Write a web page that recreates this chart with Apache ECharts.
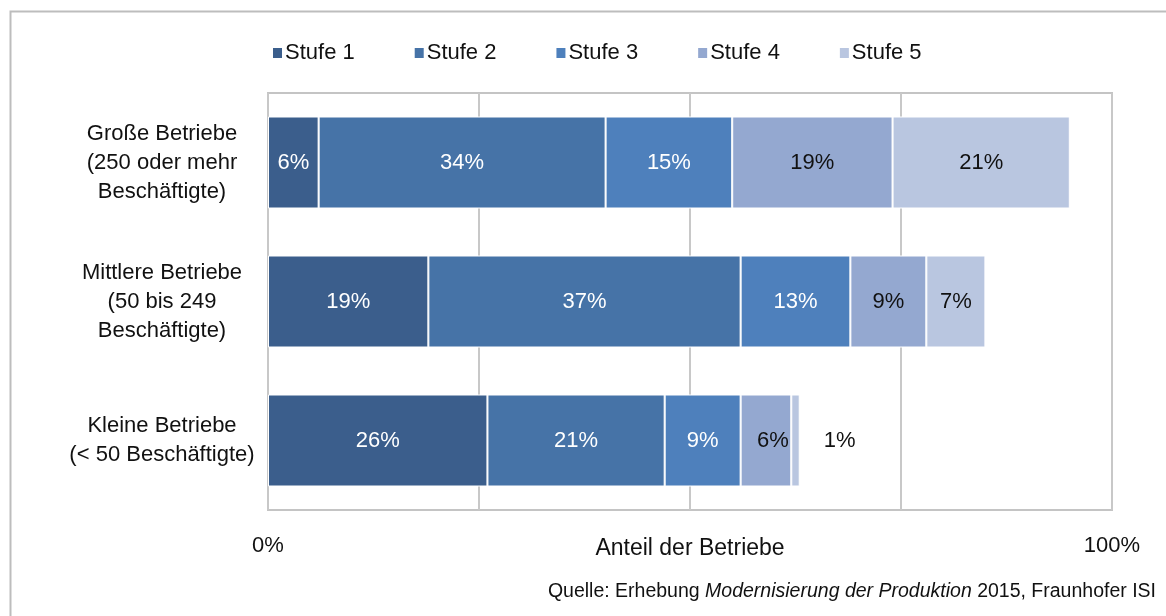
<!DOCTYPE html>
<html>
<head>
<meta charset="utf-8">
<script src="https://cdn.jsdelivr.net/npm/echarts@6/dist/echarts.min.js"></script>
<style>
  html, body { margin: 0; padding: 0; background: #fff; }
  #chart { width: 1166px; height: 616px; }
</style>
</head>
<body>
<div id="chart"></div>
<script>
// categories top to bottom
const categories = [
  'Große Betriebe\n(250 oder mehr\nBeschäftigte)',
  'Mittlere Betriebe\n(50 bis 249\nBeschäftigte)',
  'Kleine Betriebe\n(< 50 Beschäftigte)'
]
const stufeNames = ['Stufe 1', 'Stufe 2', 'Stufe 3', 'Stufe 4', 'Stufe 5']
const stufe1 = [6, 19, 26]
const stufe2 = [34, 37, 21]
const stufe3 = [15, 13, 9]
const stufe4 = [19, 9, 6]
const stufe5 = [21, 7, 1]
const xTicks = [0, 25, 50, 75, 100]

const colors = ['#3b5e8c', '#4673a7', '#4e80bc', '#94a8d0', '#b9c6e0']
const labelColors = ['#fff', '#fff', '#fff', '#111', '#111']
const font = 'Liberation Sans, Arial, sans-serif'

const chart = echarts.init(document.getElementById('chart'))

const seriesData = [stufe1, stufe2, stufe3, stufe4, stufe5]
const series = seriesData.map((vals, i) => {
  return {
    name: stufeNames[i],
    type: 'bar',
    stack: 'total',
    barWidth: 92,
    itemStyle: {
      color: colors[i],
      borderColor: '#fff',
      borderWidth: 1,
    },
    label: {
      show: true,
      position: 'inside',
      formatter: '{c}%',
      color: labelColors[i],
      fontFamily: font,
      fontSize: 22,
    },
    data: vals.map((v, j) => {
      // Kleine Betriebe: labels of the two thin segments sit a bit off
      if (j === 2 && i === 4) {
        return { value: v, label: { position: 'right', distance: 24, color: '#111' } }
      }
      if (j === 2 && i === 3) {
        return { value: v, label: { offset: [7, 0] } }
      }
      return v
    }),
  }
})

chart.setOption({
  animation: false,
  textStyle: { fontFamily: font },
  legend: {
    data: stufeNames,
    left: 266,
    top: 37,
    icon: 'rect',
    itemWidth: 11,
    itemHeight: 12,
    itemGap: 58,
    textStyle: { fontSize: 22, color: '#111', padding: [0, 0, 0, -3] },
  },
  grid: {
    left: 268,
    right: 54,
    top: 93,
    bottom: 106,
    show: true,
    borderColor: '#c4c4c4',
    borderWidth: 2,
  },
  xAxis: {
    type: 'value',
    min: 0,
    max: 100,
    interval: 25,
    name: 'Anteil der Betriebe',
    nameLocation: 'middle',
    nameGap: 27,
    nameMoveOverlap: false,
    nameTextStyle: { fontSize: 23, color: '#111' },
    axisLine: { show: false },
    axisTick: { show: false },
    splitLine: { lineStyle: { color: '#c8c8c8', width: 2 } },
    axisLabel: {
      margin: 25,
      fontSize: 22,
      color: '#111',
      formatter: (v) => (v === xTicks[0] || v === xTicks[xTicks.length - 1] ? v + '%' : ''),
    },
  },
  yAxis: {
    type: 'category',
    inverse: true,
    data: categories,
    axisLine: { show: false },
    axisTick: { show: false },
    axisLabel: {
      align: 'center',
      margin: 106,
      fontSize: 22,
      lineHeight: 29,
      color: '#111',
    },
  },
  graphic: [
    {
      type: 'rect',
      left: 8,
      top: 9,
      shape: { width: 1170, height: 620 },
      style: { fill: 'none', stroke: '#bdbdbd', lineWidth: 2 },
      silent: true,
    },
    {
      type: 'text',
      right: 10,
      top: 582,
      style: {
        text: '{a|Quelle: Erhebung }{b|Modernisierung der Produktion}{a| 2015, Fraunhofer ISI}',
        rich: {
          a: { fontSize: 19.5, fontFamily: font, fill: '#111' },
          b: { fontSize: 19.5, fontFamily: font, fontStyle: 'italic', fill: '#111' },
        },
      },
    },
  ],
  series: series,
})
</script>
</body>
</html>
